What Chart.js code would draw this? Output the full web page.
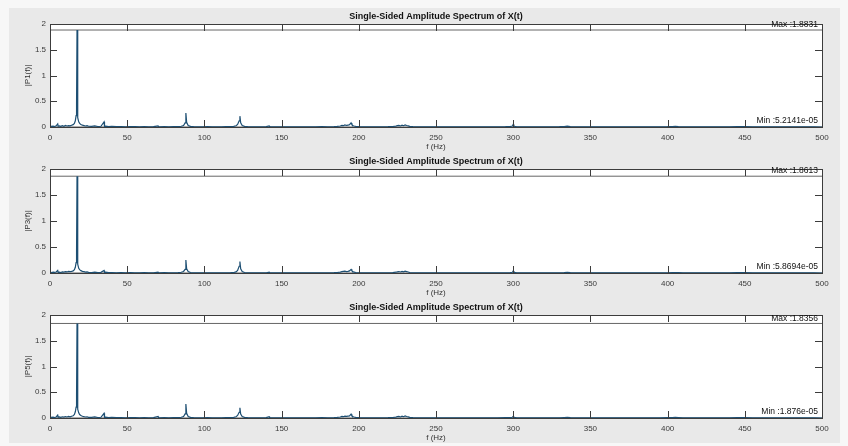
<!DOCTYPE html>
<html>
<head>
<meta charset="utf-8">
<script src="https://cdn.jsdelivr.net/npm/chart.js@4.4.1/dist/chart.umd.min.js"></script>
<style>
  html, body { margin: 0; padding: 0; background: #f7f7f7; }
  #fig { position: absolute; left: 9px; top: 8px; width: 831px; height: 435px; background: #e9e9e9; }
  canvas { position: absolute; left: 0; }
</style>
</head>
<body>
<div id="fig"></div>
<canvas id="c0"></canvas>
<canvas id="c1"></canvas>
<canvas id="c2"></canvas>
<script>
// --- Data ---
const freqs = [
  0, 1, 2, 3, 4, 5, 5.3, 6, 7, 8, 9, 10, 11, 12, 13, 14, 15, 15.8,
  16.4, 16.9, 17.2, 17.5, 17.8, 18.1, 18.6, 19.2, 20, 21, 22, 23, 24, 25,
  27, 29, 31, 33, 35, 35.3, 36, 38, 40, 43, 46, 49, 52, 55, 58, 61, 64, 67, 70, 70.3,
  71, 74, 77, 80, 83, 85, 86.5, 87.5, 88, 88.5, 89.5, 91, 93, 96, 99, 102, 105, 108, 111, 114,
  117, 119, 120.5, 121.5, 122.5, 123, 123.5, 124.5, 126, 128, 131, 134, 137, 140, 142, 142.3, 145, 148, 152, 156,
  160, 164, 168, 172, 176, 180, 184, 186, 188, 189, 190, 191, 192, 193, 194, 195, 195.5, 196, 197, 198,
  200, 203, 207, 211, 215, 219, 222, 224, 225, 226, 227, 228, 229, 230, 231, 232, 233, 235, 238, 242,
  246, 250, 255, 260, 265, 270, 275, 280, 285, 290, 295, 298, 299.5, 300, 300.5, 302, 305, 310, 315, 320,
  325, 330, 333, 335, 337, 340, 345, 350, 355, 360, 365, 370, 375, 380, 385, 390, 395, 400, 403, 405,
  407, 410, 415, 420, 425, 430, 435, 440, 445, 450, 455, 460, 465, 470, 475, 480, 485, 490, 495, 500
];

const p1 = [
  0.02, 0.012, 0.018, 0.01, 0.022, 0.06, 0.015, 0.02, 0.012, 0.025, 0.015, 0.03, 0.02, 0.028, 0.022, 0.035, 0.045, 0.07,
  0.12, 0.22, 0.45, 1.8831, 0.4, 0.18, 0.1, 0.07, 0.05, 0.035, 0.028, 0.02, 0.025, 0.015,
  0.012, 0.02, 0.01, 0.015, 0.1, 0.012, 0.018, 0.008, 0.012, 0.006, 0.01, 0.005, 0.008, 0.006, 0.004, 0.007, 0.005, 0.006, 0.02, 0.006,
  0.005, 0.007, 0.004, 0.006, 0.008, 0.015, 0.03, 0.08, 0.27, 0.09, 0.03, 0.012, 0.006, 0.005, 0.004, 0.006, 0.004, 0.005, 0.004, 0.006,
  0.008, 0.012, 0.025, 0.05, 0.12, 0.21, 0.08, 0.03, 0.012, 0.006, 0.004, 0.005, 0.004, 0.006, 0.02, 0.005, 0.004, 0.003, 0.004, 0.003,
  0.004, 0.003, 0.005, 0.004, 0.006, 0.005, 0.008, 0.012, 0.02, 0.03, 0.025, 0.04, 0.03, 0.035, 0.045, 0.08, 0.05, 0.03, 0.02, 0.012,
  0.006, 0.004, 0.003, 0.005, 0.004, 0.006, 0.01, 0.018, 0.025, 0.03, 0.02, 0.035, 0.025, 0.04, 0.03, 0.022, 0.012, 0.006, 0.004, 0.003,
  0.004, 0.003, 0.005, 0.003, 0.004, 0.003, 0.004, 0.005, 0.003, 0.004, 0.006, 0.01, 0.02, 0.05, 0.015, 0.008, 0.004, 0.003, 0.004, 0.003,
  0.004, 0.006, 0.01, 0.015, 0.008, 0.004, 0.003, 0.004, 0.003, 0.002, 0.003, 0.004, 0.002, 0.003, 0.002, 0.003, 0.004, 0.006, 0.01, 0.012,
  0.008, 0.004, 0.003, 0.002, 0.003, 0.002, 0.003, 0.004, 0.008, 0.01, 0.004, 0.003, 0.002, 0.003, 0.002, 0.003, 0.002, 0.003, 0.002, 0.000052141
];

const p3 = [
  0.018, 0.01, 0.015, 0.012, 0.02, 0.05, 0.012, 0.018, 0.01, 0.022, 0.018, 0.025, 0.02, 0.03, 0.025, 0.032, 0.04, 0.065,
  0.11, 0.2, 0.42, 1.8613, 0.38, 0.17, 0.09, 0.065, 0.045, 0.032, 0.025, 0.018, 0.022, 0.012,
  0.01, 0.018, 0.009, 0.012, 0.05, 0.01, 0.015, 0.007, 0.01, 0.005, 0.008, 0.004, 0.007, 0.005, 0.004, 0.006, 0.004, 0.005, 0.015, 0.005,
  0.004, 0.006, 0.004, 0.005, 0.007, 0.014, 0.03, 0.07, 0.25, 0.08, 0.028, 0.01, 0.005, 0.004, 0.004, 0.005, 0.004, 0.004, 0.003, 0.005,
  0.007, 0.01, 0.022, 0.05, 0.13, 0.22, 0.08, 0.028, 0.01, 0.005, 0.004, 0.004, 0.003, 0.005, 0.015, 0.004, 0.003, 0.003, 0.003, 0.003,
  0.003, 0.003, 0.004, 0.004, 0.005, 0.005, 0.007, 0.01, 0.018, 0.025, 0.03, 0.035, 0.028, 0.03, 0.04, 0.07, 0.045, 0.025, 0.018, 0.01,
  0.005, 0.004, 0.003, 0.004, 0.004, 0.005, 0.009, 0.015, 0.022, 0.028, 0.02, 0.032, 0.022, 0.035, 0.028, 0.02, 0.01, 0.005, 0.004, 0.003,
  0.003, 0.003, 0.004, 0.003, 0.004, 0.003, 0.003, 0.004, 0.003, 0.004, 0.005, 0.008, 0.015, 0.04, 0.012, 0.006, 0.004, 0.003, 0.003, 0.003,
  0.003, 0.005, 0.008, 0.012, 0.007, 0.004, 0.003, 0.003, 0.003, 0.002, 0.003, 0.003, 0.002, 0.003, 0.002, 0.003, 0.004, 0.005, 0.008, 0.01,
  0.007, 0.004, 0.003, 0.002, 0.003, 0.002, 0.003, 0.004, 0.007, 0.008, 0.004, 0.003, 0.002, 0.003, 0.002, 0.003, 0.002, 0.002, 0.002, 0.000058694
];

const p5 = [
  0.02, 0.012, 0.016, 0.01, 0.02, 0.055, 0.014, 0.02, 0.012, 0.024, 0.016, 0.028, 0.02, 0.03, 0.022, 0.034, 0.042, 0.068,
  0.12, 0.21, 0.44, 1.8356, 0.39, 0.17, 0.1, 0.068, 0.048, 0.034, 0.026, 0.02, 0.024, 0.014,
  0.012, 0.02, 0.01, 0.014, 0.09, 0.012, 0.016, 0.008, 0.011, 0.006, 0.009, 0.005, 0.008, 0.006, 0.004, 0.007, 0.005, 0.006, 0.03, 0.006,
  0.005, 0.007, 0.004, 0.006, 0.008, 0.015, 0.03, 0.08, 0.27, 0.09, 0.03, 0.012, 0.006, 0.005, 0.004, 0.006, 0.004, 0.005, 0.004, 0.006,
  0.008, 0.012, 0.024, 0.05, 0.11, 0.2, 0.075, 0.028, 0.012, 0.006, 0.004, 0.005, 0.004, 0.006, 0.025, 0.005, 0.004, 0.003, 0.004, 0.003,
  0.004, 0.003, 0.005, 0.004, 0.006, 0.005, 0.008, 0.012, 0.02, 0.03, 0.025, 0.035, 0.03, 0.035, 0.04, 0.075, 0.045, 0.03, 0.02, 0.012,
  0.006, 0.004, 0.003, 0.005, 0.004, 0.006, 0.01, 0.018, 0.025, 0.03, 0.02, 0.035, 0.025, 0.04, 0.03, 0.022, 0.012, 0.006, 0.004, 0.003,
  0.004, 0.003, 0.005, 0.003, 0.004, 0.003, 0.004, 0.005, 0.003, 0.004, 0.006, 0.009, 0.015, 0.03, 0.012, 0.007, 0.004, 0.003, 0.004, 0.003,
  0.004, 0.005, 0.009, 0.012, 0.007, 0.004, 0.003, 0.004, 0.003, 0.002, 0.003, 0.004, 0.002, 0.003, 0.002, 0.003, 0.004, 0.006, 0.009, 0.011,
  0.008, 0.004, 0.003, 0.002, 0.003, 0.002, 0.003, 0.004, 0.007, 0.009, 0.004, 0.003, 0.002, 0.003, 0.002, 0.003, 0.002, 0.003, 0.002, 0.00001876
];

const seriesData = [p1, p3, p5];
const yLabels = ['|P1(f)|', '|P3(f)|', '|P5(f)|'];
const maxVals = [1.8831, 1.8613, 1.8356];
const maxTexts = ['Max :1.8831', 'Max :1.8613', 'Max :1.8356'];
const minVals = [5.2141e-05, 5.8694e-05, 1.876e-05];
const minTexts = ['Min :5.2141e-05', 'Min :5.8694e-05', 'Min :1.876e-05'];
const xTicks = [0, 50, 100, 150, 200, 250, 300, 350, 400, 450, 500];
const yTicks = [0, 0.5, 1, 1.5, 2];
const titleText = 'Single-Sided Amplitude Spectrum of X(t)';

// --- Layout of the three subplots ---
const plotTops = [24, 169, 315];
const plotHeights = [103, 104, 103];
const FONT = '"Liberation Sans", Arial, Helvetica, sans-serif';
const TICK = 7;

const matlabAxes = {
  id: 'matlabAxes',
  beforeDraw(chart) {
    const a = chart.chartArea, ctx = chart.ctx;
    ctx.save();
    ctx.fillStyle = '#ffffff';
    ctx.fillRect(a.left, a.top, a.right - a.left, a.bottom - a.top);
    ctx.restore();
  },
  afterDraw(chart, args, opts) {
    const a = chart.chartArea, ctx = chart.ctx;
    const xs = chart.scales.x, ys = chart.scales.y;
    ctx.save();
    ctx.strokeStyle = '#3c3c3c';
    ctx.lineWidth = 1;
    ctx.strokeRect(Math.round(a.left) + 0.5, Math.round(a.top) + 0.5,
      Math.round(a.right - a.left), Math.round(a.bottom - a.top));

    // inward ticks on all sides
    ctx.beginPath();
    xTicks.forEach(v => {
      const px = Math.round(xs.getPixelForValue(v)) + 0.5;
      ctx.moveTo(px, a.bottom); ctx.lineTo(px, a.bottom - TICK);
      ctx.moveTo(px, a.top); ctx.lineTo(px, a.top + TICK);
    });
    yTicks.forEach(v => {
      const py = Math.round(ys.getPixelForValue(v)) + 0.5;
      ctx.moveTo(a.left, py); ctx.lineTo(a.left + TICK, py);
      ctx.moveTo(a.right, py); ctx.lineTo(a.right - TICK, py);
    });
    ctx.stroke();

    const cx = (a.left + a.right) / 2;
    ctx.fillStyle = '#111';
    ctx.font = 'bold 9px ' + FONT;
    ctx.textAlign = 'center';
    ctx.textBaseline = 'middle';
    ctx.fillText(titleText, cx, a.top - 7);

    ctx.fillStyle = '#333';
    ctx.font = '8px ' + FONT;
    ctx.fillText('f (Hz)', cx, a.bottom + 20);

    ctx.save();
    ctx.translate(a.left - 22, (a.top + a.bottom) / 2);
    ctx.rotate(-Math.PI / 2);
    ctx.fillText(opts.ylabel, 0, 0);
    ctx.restore();

    ctx.fillStyle = '#111';
    ctx.font = '8.5px ' + FONT;
    ctx.textAlign = 'right';
    ctx.textBaseline = 'bottom';
    ctx.fillText(opts.maxText, a.right - 4, ys.getPixelForValue(opts.maxVal) - 1);
    ctx.fillText(opts.minText, a.right - 4, ys.getPixelForValue(opts.minVal) - 2);
    ctx.restore();
  }
};

seriesData.forEach((amps, i) => {
  const canvas = document.getElementById('c' + i);
  const h = 24 + plotHeights[i] + 30;
  canvas.width = 848;
  canvas.height = h;
  canvas.style.top = (plotTops[i] - 24) + 'px';

  new Chart(canvas, {
    type: 'line',
    data: {
      datasets: [
        {
          data: freqs.map((f, k) => ({ x: f, y: amps[k] })),
          borderColor: '#1d4f73',
          borderWidth: 1.2,
          pointRadius: 0,
          tension: 0,
        },
        {
          data: [{ x: 0, y: maxVals[i] }, { x: 500, y: maxVals[i] }],
          borderColor: '#666666',
          borderWidth: 1,
          pointRadius: 0,
        },
        {
          data: [{ x: 0, y: minVals[i] }, { x: 500, y: minVals[i] }],
          borderColor: '#666666',
          borderWidth: 1,
          pointRadius: 0,
        },
      ],
    },
    options: {
      responsive: false,
      animation: false,
      events: [],
      layout: { padding: { left: 20, right: 26, top: 24, bottom: 0 } },
      scales: {
        x: {
          type: 'linear', min: 0, max: 500,
          afterBuildTicks: s => { s.ticks = xTicks.map(v => ({ value: v })); },
          afterFit: s => { s.height = 30; },
          grid: { display: false, drawTicks: false },
          border: { display: false },
          ticks: { padding: 6, color: '#3a3a3a', font: { family: FONT, size: 8 }, maxRotation: 0, autoSkip: false,
                   callback: v => String(v) },
        },
        y: {
          type: 'linear', min: 0, max: 2,
          afterBuildTicks: s => { s.ticks = yTicks.map(v => ({ value: v })); },
          afterFit: s => { s.width = 30; },
          grid: { display: false, drawTicks: false },
          border: { display: false },
          ticks: { padding: 4, color: '#3a3a3a', font: { family: FONT, size: 8 }, callback: v => String(v) },
        },
      },
      plugins: {
        legend: { display: false },
        tooltip: { enabled: false },
        matlabAxes: { ylabel: yLabels[i], maxVal: maxVals[i], maxText: maxTexts[i], minVal: minVals[i], minText: minTexts[i] },
      },
    },
    plugins: [matlabAxes],
  });
});
</script>
</body>
</html>
